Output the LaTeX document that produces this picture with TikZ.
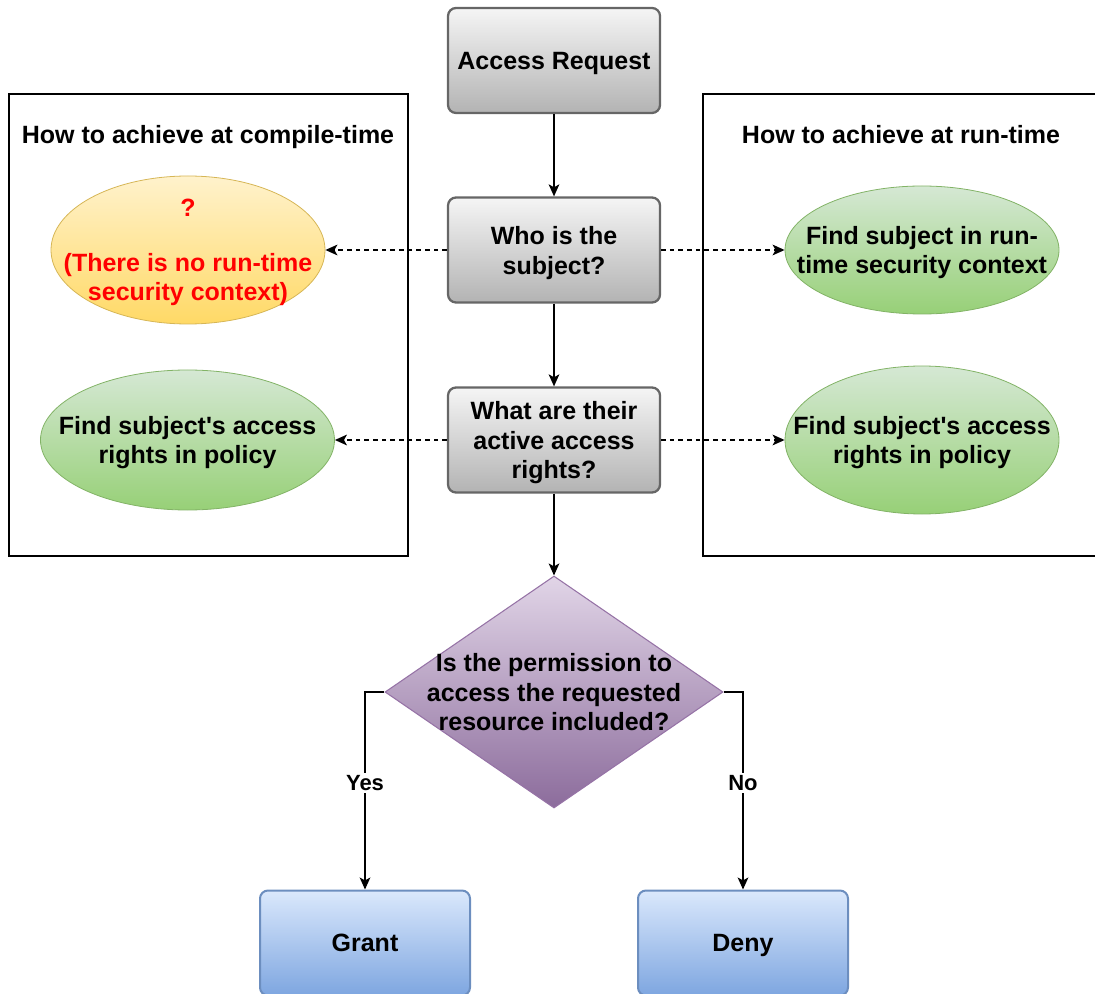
\documentclass[tikz,border=0pt]{standalone}
\usepackage{fontspec}
\setmainfont{Liberation Sans}
\usetikzlibrary{shapes.geometric,arrows.meta}

\definecolor{grayTop}{HTML}{F5F5F5}
\definecolor{grayBot}{HTML}{B3B3B3}
\definecolor{grayLine}{HTML}{666666}
\definecolor{greenTop}{HTML}{D5E8D4}
\definecolor{greenBot}{HTML}{97D077}
\definecolor{greenLine}{HTML}{82B366}
\definecolor{yellowTop}{HTML}{FFF2CC}
\definecolor{yellowBot}{HTML}{FFD966}
\definecolor{yellowLine}{HTML}{D6B656}
\definecolor{purpleTop}{HTML}{E1D5E7}
\definecolor{purpleBot}{HTML}{8C6C9C}
\definecolor{purpleLine}{HTML}{9673A6}
\definecolor{blueTop}{HTML}{DAE8FC}
\definecolor{blueBot}{HTML}{7EA6E0}
\definecolor{blueLine}{HTML}{6C8EBF}

\tikzset{
  txt/.style={font=\fontsize{18.75}{22}\selectfont\bfseries, align=center, inner sep=0pt, text depth=0pt},
  stepbox/.style={txt, draw=grayLine, line width=1.7pt, rounded corners=6pt,
    top color=grayTop, bottom color=grayBot,
    minimum width=159pt, minimum height=78.75pt},
  outcome/.style={txt, draw=blueLine, line width=1.5pt, rounded corners=6pt,
    top color=blueTop, bottom color=blueBot,
    minimum width=157.5pt, minimum height=78.75pt},
  greenell/.style={ellipse, draw=greenLine, line width=0.6pt,
    top color=greenTop, bottom color=greenBot, inner sep=0pt},
  yellowell/.style={ellipse, draw=yellowLine, line width=0.6pt,
    top color=yellowTop, bottom color=yellowBot, inner sep=0pt},
  frame/.style={draw=black, line width=1.1pt, inner sep=0pt},
  arr/.style={draw=black, line width=1.1pt, -{Stealth[length=9pt,width=8pt,inset=2.2pt]}},
  darr/.style={arr, dash pattern=on 3.5pt off 3pt},
  choice/.style={font=\fontsize{16.5}{18}\selectfont\bfseries, fill=white, inner sep=2pt}
}

\begin{document}
\begin{tikzpicture}[x=0.75pt,y=-0.75pt]
\useasboundingbox (0,0) rectangle (1095,994);

% side panels
\node[frame, minimum width=299.25pt, minimum height=346.5pt] (cframe) at (208.5,325) {};
\node[frame, minimum width=295.5pt, minimum height=346.5pt] (rframe) at (900,325) {};
\node[txt] (ctitle) at (208,134) {How to achieve at compile-time};
\node[txt] (rtitle) at (901,134) {How to achieve at run-time};

% main flow
\node[stepbox] (req) at (554,60.5) {Access Request};
\node[stepbox, font=\fontsize{18.75}{22.5}\selectfont\bfseries] (who) at (554,250) {Who is the\\subject?};
\node[stepbox, font=\fontsize{18.75}{22}\selectfont\bfseries] (what) at (554,440) {What are their\\active access\\rights?};

% compile-time answers
\node[yellowell, minimum width=205.5pt, minimum height=111pt] (yel) at (188,250) {};
\node[txt, text=red, font=\fontsize{18.75}{21.75}\selectfont\bfseries] (yeltext) at (yel) {?\\[19.5pt](There is no run-time\\security context)};
\node[greenell, minimum width=220.5pt, minimum height=105pt] (cpol) at (187.5,440) {};
\node[txt, font=\fontsize{18.75}{22}\selectfont\bfseries] (cpoltext) at (cpol) {Find subject\textquotesingle s access\\rights in policy};

% run-time answers
\node[greenell, minimum width=205.5pt, minimum height=96pt] (rsub) at (922,250) {};
\node[txt, font=\fontsize{18.75}{21.75}\selectfont\bfseries] (rsubtext) at (rsub) {Find subject in run-\\time security context};
\node[greenell, minimum width=205.5pt, minimum height=111pt] (rpol) at (922,440) {};
\node[txt, font=\fontsize{18.75}{22}\selectfont\bfseries] (rpoltext) at (rpol) {Find subject\textquotesingle s access\\rights in policy};

% decision
\node[diamond, draw=purpleLine, line width=0.8pt, top color=purpleTop, bottom color=purpleBot,
      minimum width=253.5pt, minimum height=174pt, inner sep=0pt] (dec) at (554,692) {};
\node[txt, font=\fontsize{18.75}{22}\selectfont\bfseries] (dectext) at (dec) {Is the permission to\\access the requested\\resource included?};

% outcomes
\node[outcome] (grant) at (365,943) {Grant};
\node[outcome] (deny) at (743,943) {Deny};

% connectors
\draw[arr] (req) -- (who);
\draw[arr] (who) -- (what);
\draw[arr] (what) -- (dec.north);
\draw[darr] (who.west) -- (yel.east);
\draw[darr] (who.east) -- (rsub.west);
\draw[darr] (what.west) -- (cpol.east);
\draw[darr] (what.east) -- (rpol.west);
\draw[arr] (dec.west) -| (grant.north) node[choice, pos=0.73] {Yes};
\draw[arr] (dec.east) -| (deny.north) node[choice, pos=0.73] {No};
\end{tikzpicture}
\end{document}
